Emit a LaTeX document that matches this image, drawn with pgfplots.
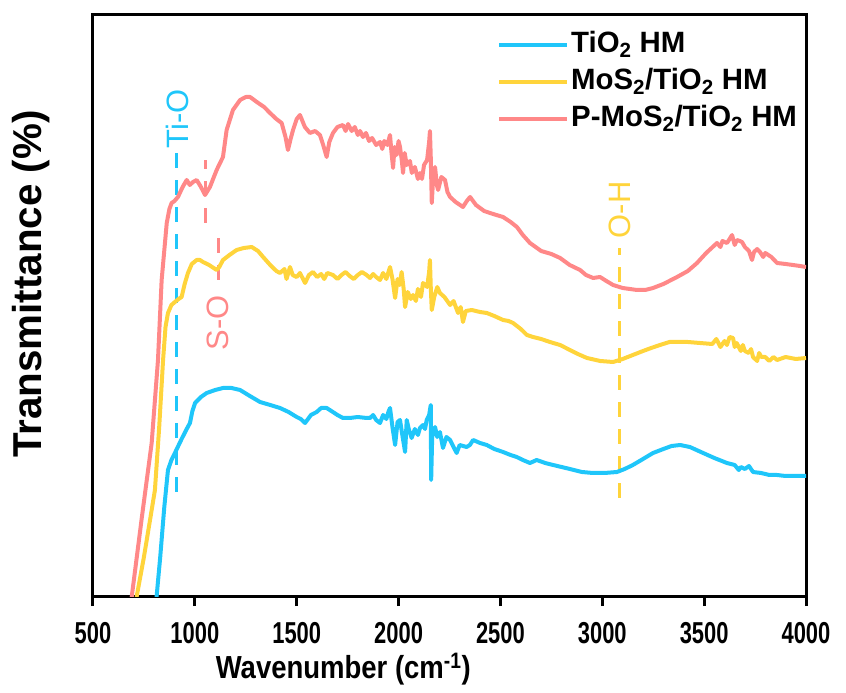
\documentclass[border=0pt]{standalone}
\usepackage{pgfplots}
\pgfplotsset{compat=1.18}
\usepackage{pgfplotstable}
\usepackage{graphicx}
\usepackage{fontspec}
\setmainfont{Liberation Sans}
\definecolor{cblue}{RGB}{31,198,250}
\definecolor{cyel}{RGB}{255,212,59}
\definecolor{cpink}{RGB}{255,136,136}

\pgfplotstableread{
x y
812 0
830 40
850 90
868 127
885 137
902 144
935 158
960 168
976 174
988 186
1001 194
1030 200
1058 204
1100 207
1138 209
1180 209
1222 207
1270 201
1320 195
1370 192
1418 189
1460 185
1500 180
1520 178
1541 174
1570 182
1598 185
1620 189
1647 189
1670 186
1700 182
1727 179
1760 179
1800 180
1843 179
1860 179
1875 182
1890 177
1909 174
1924 182
1940 178
1950 185
1958 189
1970 170
1983 152
1995 175
2007 177
2020 160
2032 145
2040 177
2050 168
2064 159
2080 168
2095 162
2105 169
2120 172
2130 168
2138 177
2150 182
2158 192
2160 117
2165 160
2179 170
2190 160
2203 165
2218 149
2235 160
2253 157
2270 150
2285 144
2300 152
2334 150
2350 152
2366 157
2400 154
2433 152
2470 148
2513 145
2550 142
2580 140
2610 137
2645 134
2678 137
2720 134
2759 132
2800 130
2841 128
2900 125
2955 124
3010 124
3072 125
3110 128
3150 132
3200 138
3249 144
3300 148
3340 151
3382 152
3430 150
3495 144
3550 139
3612 134
3650 132
3670 127
3680 130
3700 128
3720 131
3740 125
3780 124
3820 122
3858 122
3900 121
3950 121
4000 121
}\tio

\pgfplotstableread{
x y
714 0
750 40
780 77
804 107
825 170
844 237
856 270
868 284
885 292
902 295
920 298
935 300
950 313
966 324
985 333
1009 337
1025 337
1040 335
1070 332
1107 327
1120 330
1138 337
1170 342
1205 347
1240 349
1279 350
1310 346
1335 340
1370 332
1400 326
1418 324
1440 328
1450 318
1467 330
1480 322
1500 320
1516 324
1541 314
1560 322
1580 325
1600 320
1620 323
1635 318
1650 324
1678 322
1700 318
1720 322
1740 325
1760 321
1780 318
1800 322
1820 325
1843 322
1860 319
1875 323
1890 320
1909 317
1924 324
1940 318
1958 330
1970 318
1983 299
1995 318
2005 312
2015 325
2025 308
2032 290
2045 305
2060 298
2071 302
2085 296
2095 308
2110 300
2120 314
2140 310
2150 325
2154 337
2158 310
2163 287
2175 300
2190 310
2203 304
2225 300
2253 292
2270 296
2292 284
2305 290
2316 275
2330 286
2359 287
2400 285
2433 284
2470 281
2513 277
2540 276
2562 274
2600 268
2630 262
2660 260
2700 258
2743 255
2793 252
2841 247
2880 243
2925 239
2990 236
3053 235
3100 238
3150 242
3200 246
3240 249
3283 252
3330 255
3367 255
3420 255
3480 254
3540 253
3560 258
3580 250
3600 256
3612 252
3625 260
3642 259
3650 250
3660 254
3680 246
3690 252
3700 246
3720 244
3730 248
3740 240
3760 236
3770 244
3780 240
3800 240
3820 236
3840 240
3858 237
3900 240
3950 238
4000 239
}\mos

\pgfplotstableread{
x y
690 0
740 80
788 154
819 237
837 317
862 374
875 388
886 394
900 396
917 400
940 410
960 417
975 412
991 415
1009 417
1030 410
1050 402
1074 410
1107 427
1138 440
1156 467
1187 487
1222 497
1250 500
1271 500
1304 495
1340 490
1369 484
1400 478
1426 474
1445 460
1457 447
1470 458
1482 467
1500 478
1516 482
1540 470
1565 464
1590 466
1614 462
1630 452
1647 440
1660 455
1678 464
1700 470
1727 472
1740 466
1752 473
1770 466
1785 470
1800 462
1811 466
1825 460
1840 464
1855 456
1870 459
1890 452
1909 455
1920 448
1930 456
1945 452
1958 462
1965 445
1973 429
1980 450
1990 442
2000 456
2007 450
2015 438
2022 424
2030 444
2040 432
2056 436
2065 424
2080 430
2095 418
2105 424
2115 418
2125 432
2140 437
2150 455
2154 466
2158 440
2163 394
2170 420
2179 430
2188 412
2194 407
2210 420
2228 417
2240 405
2253 400
2280 395
2316 390
2335 396
2351 400
2380 392
2420 386
2449 384
2480 382
2513 380
2550 375
2581 370
2610 362
2645 354
2700 346
2750 343
2793 339
2840 332
2891 327
2920 322
2955 319
2989 320
3020 316
3053 312
3100 309
3171 307
3210 307
3249 309
3300 313
3367 320
3420 326
3465 334
3510 344
3563 354
3580 350
3590 356
3612 354
3625 358
3637 362
3650 352
3661 357
3675 356
3686 355
3700 350
3720 346
3735 337
3745 345
3760 348
3774 345
3790 340
3800 344
3830 340
3858 334
3900 333
3936 332
3970 331
4000 330
}\pmos

\begin{document}
\begin{tikzpicture}
\begin{axis}[
  at={(0,0)}, anchor=south west,
  scale only axis, width=713bp, height=581bp,
  xmin=500, xmax=4000, ymin=1, ymax=582,
  xtick={500,1000,...,4000}, ytick=\empty,
  xtick pos=lower, tick align=outside,
  major tick length=10bp,
  every tick/.style={black, line width=3bp},
  axis line style={line width=3bp},
  /pgf/number format/1000 sep={},
  xticklabel={\scalebox{1}[1.38]{\bfseries\fontsize{22}{24}\selectfont\pgfmathprintnumber[assume math mode=true]{\tick}}},
  xticklabel style={anchor=north, inner sep=0pt, yshift=-16bp},
  xlabel={\scalebox{1}[1.16]{\bfseries\fontsize{27.6}{30}\selectfont Wavenumber (cm\textsuperscript{-1})}},
  xlabel style={at={(axis description cs:0.351,-0.126)}, anchor=center, inner sep=0pt},
  ylabel={\bfseries\fontsize{40.5}{44}\selectfont Transmittance (\%)},
  ylabel style={at={(axis description cs:-0.087,0.537)}, anchor=center, rotate=0, inner sep=0pt},
  legend style={draw=none, fill=none, at={(axis description cs:0.5666,0.976)}, anchor=north west,
    font=\bfseries\fontsize{29.5}{31}\selectfont, row sep=6bp, inner sep=0pt,
    nodes={inner sep=2bp, text height=21bp, text depth=6bp}},
  legend cell align=left,
  legend image code/.code={\draw[#1, line width=4bp] (0bp,0bp) -- (68bp,0bp);},
]
\addplot[cpink, dash pattern=on 15bp off 12bp, line width=3bp, forget plot] coordinates {(1050,374) (1050,437)};
\addplot[cpink, dash pattern=on 15bp off 12bp, line width=3bp, forget plot] coordinates {(1115,317) (1115,360)};
\addplot[cyel, dash pattern=on 15bp off 12bp, line width=3bp, forget plot] coordinates {(3084,99) (3084,349)};
\addplot[cblue, dash pattern=on 15bp off 12bp, line width=3bp, forget plot] coordinates {(912,105) (912,447)};
\addplot[cblue, line width=4bp, line join=round] table {\tio};
\addlegendentry{TiO\textsubscript{2} HM}
\addplot[cyel, line width=4bp, line join=round] table {\mos};
\addlegendentry{MoS\textsubscript{2}/TiO\textsubscript{2} HM}
\addplot[cpink, line width=4bp, line join=round] table {\pmos};
\addlegendentry{P-MoS\textsubscript{2}/TiO\textsubscript{2} HM}
\node[rotate=90, text=cblue, font=\fontsize{31}{33}\selectfont, inner sep=0pt] at (axis cs:917,478) {Ti-O};
\node[rotate=90, text=cpink, font=\fontsize{31}{33}\selectfont, inner sep=0pt] at (axis cs:1114,274) {S-O};
\node[rotate=90, text=cyel, font=\fontsize{31}{33}\selectfont, inner sep=0pt] at (axis cs:3085,387) {O-H};
\end{axis}
\pgfresetboundingbox
\useasboundingbox (-93bp,-97bp) rectangle (753bp,596bp);
\end{tikzpicture}
\end{document}
